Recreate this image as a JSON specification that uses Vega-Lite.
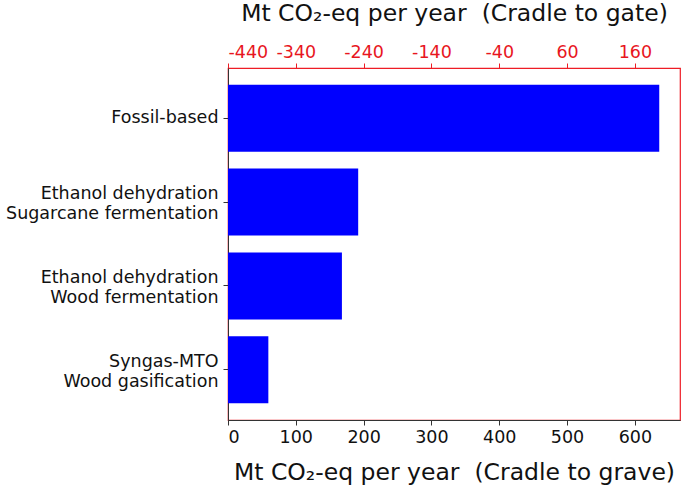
{
  "$schema": "https://vega.github.io/schema/vega-lite/v6.json",
  "autosize": "none",
  "padding": {"left": 228, "top": 68, "right": 5, "bottom": 67},
  "width": 452,
  "height": 352,
  "config": {
    "view": {"stroke": "#ee1c25", "strokeWidth": 1.2},
    "font": "DejaVu Sans",
    "axis": {"grid": false, "labelFont": "DejaVu Sans", "titleFont": "DejaVu Sans", "titleFontWeight": "normal", "labelColor": "#111", "titleColor": "#111"}
  },
  "layer": [
    {
      "data": {"values": [
        {"pathway": "Fossil-based", "grave": 636},
        {"pathway": "Ethanol dehydration\u2002|Sugarcane fermentation", "grave": 192},
        {"pathway": "Ethanol dehydration\u2002|Wood fermentation", "grave": 168},
        {"pathway": "Syngas-MTO\u2002|Wood gasification", "grave": 59.5}
      ]},
      "mark": {"type": "bar", "color": "#0000ff"},
      "encoding": {
        "y": {
          "field": "pathway", "type": "nominal", "sort": null,
          "scale": {"paddingInner": 0.2, "paddingOuter": 0.2},
          "axis": {"title": null, "labelFontSize": 17.5, "labelLineHeight": 20, "labelLimit": 300, "labelPadding": 5, "tickSize": 5, "tickColor": "#333", "domainColor": "#333", "labelExpr": "split(datum.value, '|')",
            "labelOffset": {"condition": {"test": "indexof(datum.value, '|') >= 0", "value": -8}, "value": 0}}
        },
        "x": {
          "field": "grave", "type": "quantitative",
          "scale": {"domain": [0, 666.6], "nice": false, "zero": false},
          "axis": {"orient": "bottom", "values": [0, 100, 200, 300, 400, 500, 600], "title": "Mt CO₂-eq per year\u00a0\u00a0(Cradle to grave)", "titleFontSize": 23.5, "labelFontSize": 17.5, "tickSize": 5, "tickColor": "#333", "domainColor": "#333", "titlePadding": 15, "labelPadding": 3}
        }
      }
    },
    {
      "data": {"values": [{"gate": -440}, {"gate": 160}]},
      "mark": {"type": "point", "opacity": 0},
      "encoding": {
        "x": {
          "field": "gate", "type": "quantitative",
          "scale": {"domain": [-440, 226.6], "nice": false, "zero": false},
          "axis": {"orient": "top", "values": [-440, -340, -240, -140, -40, 60, 160], "labelExpr": "'' + datum.value", "title": "Mt CO₂-eq per year\u00a0\u00a0(Cradle to gate)", "titleFontSize": 23.5, "labelFontSize": 17.5, "labelColor": "#e8161e", "tickColor": "#ee1c25", "domainColor": "#ee1c25", "tickSize": 5, "titlePadding": 18, "labelPadding": 2}
        }
      }
    }
  ],
  "resolve": {"scale": {"x": "independent"}}
}
